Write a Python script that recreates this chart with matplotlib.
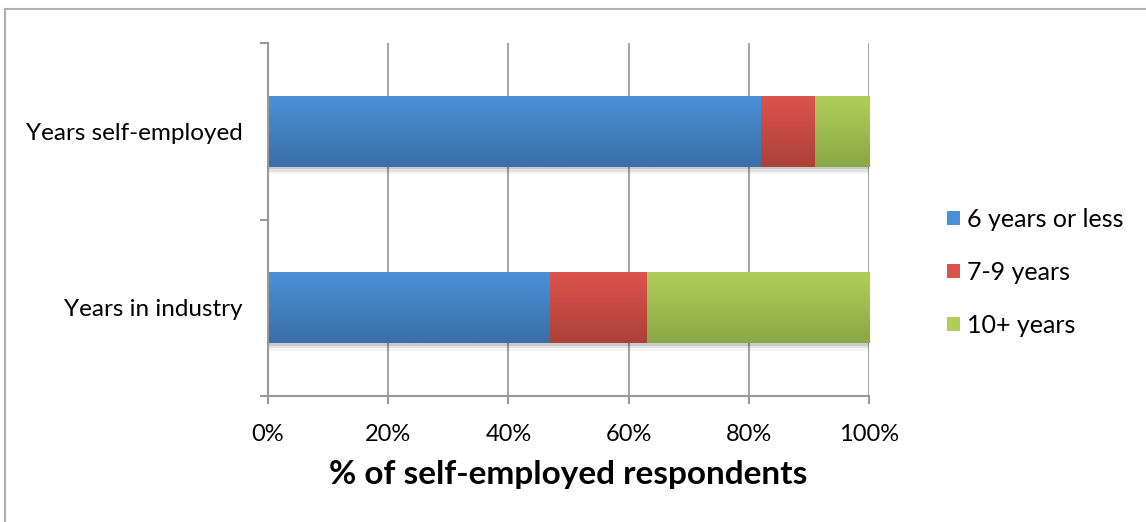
import numpy as np
import matplotlib.pyplot as plt
from matplotlib.lines import Line2D
from matplotlib.patches import Rectangle
from matplotlib.colors import LinearSegmentedColormap

plt.rcParams["font.family"] = ["Lato", "DejaVu Sans"]

categories = ["Years in industry", "Years self-employed"]
series_names = ["6 years or less", "7-9 years", "10+ years"]
six_or_less = [47, 82]
seven_to_nine = [16, 9]
ten_plus = [37, 9]
x_ticks = [0, 20, 40, 60, 80, 100]

# gradient top/bottom colours, Excel style
grads = [("#4a91d8", "#3a6ea8"), ("#db544b", "#ad4139"), ("#aece58", "#8ba747")]

fig = plt.figure(figsize=(11.46, 5.22), dpi=100)
ax = fig.add_axes([268 / 1146, 1 - 396 / 522, (869 - 268) / 1146, (396 - 43) / 522])

# outer chart frame (top and left only visible)
fig.add_artist(Line2D([5 / 1146, 5 / 1146], [0, 1 - 9 / 522], color="#b0b0b0", lw=1.5,
                      transform=fig.transFigure))
fig.add_artist(Line2D([5 / 1146, 1], [1 - 9 / 522, 1 - 9 / 522], color="#b0b0b0", lw=1.5,
                      transform=fig.transFigure))

y = np.arange(len(categories))
left = np.zeros(len(categories))
bar_h = 0.4
for vals, name, (top, bot) in zip([six_or_less, seven_to_nine, ten_plus], series_names, grads):
    bars = ax.barh(y, vals, left=left, height=bar_h, color=top, zorder=3, label=name)
    cmap = LinearSegmentedColormap.from_list(name, [bot, top])
    grad = np.linspace(0, 1, 64).reshape(-1, 1)
    for b in bars:
        x0, y0 = b.get_x(), b.get_y()
        w, h = b.get_width(), b.get_height()
        # soft shadow below bar
        for k, a in enumerate([0.10, 0.07, 0.04]):
            ax.add_patch(Rectangle((x0, y0 - 0.015 * (k + 1)), w, h, color="black",
                                   alpha=a, zorder=2, lw=0))
        im = ax.imshow(grad, extent=[x0, x0 + w, y0, y0 + h], origin="lower",
                       aspect="auto", cmap=cmap, zorder=4)
        im.set_clip_path(b)
    left = left + np.array(vals)

ax.set_xlim(0, 100)
ax.set_ylim(-0.5, 1.5)
ax.set_xticks(x_ticks)
ax.set_xticklabels([f"{t}%" for t in x_ticks])
ax.set_yticks(y)
ax.set_yticklabels(categories)
ax.set_yticks([-0.5, 0.5, 1.5], minor=True)
ax.tick_params(axis="y", which="major", length=0, pad=18, labelsize=17.5)
ax.tick_params(axis="y", which="minor", length=6, color="#999999", width=1.5)
ax.tick_params(axis="x", length=6, color="#999999", width=1.5, labelsize=17, pad=14)
ax.grid(axis="x", color="#a6a6a6", lw=1.5, zorder=0)
ax.set_axisbelow(True)
for s in ["top", "right"]:
    ax.spines[s].set_visible(False)
for s in ["left", "bottom"]:
    ax.spines[s].set_color("#999999")
    ax.spines[s].set_linewidth(1.5)
    ax.spines[s].set_zorder(5)

ax.set_xlabel("% of self-employed respondents", fontsize=24, fontweight="bold", labelpad=11)

leg = ax.legend(loc="center left", bbox_to_anchor=(1.093, 0.35), frameon=False, fontsize=18,
                handlelength=0.52, handleheight=0.52, handletextpad=0.25, labelspacing=1.2)

fig.savefig("out.png", dpi=100)
